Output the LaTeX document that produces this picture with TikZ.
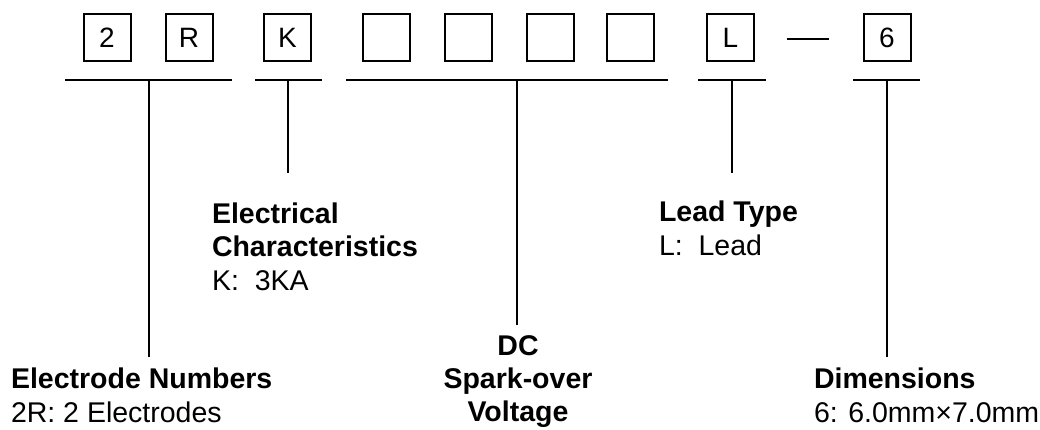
\documentclass[tikz,border=0pt]{standalone}
\usepackage{fontspec}
\setmainfont{Liberation Sans}
\begin{document}
\begin{tikzpicture}[x=1pt,y=-1pt,line width=2pt,
  cell/.style={draw, minimum size=47pt, inner sep=0pt, font=\fontsize{28}{33}\selectfont},
  lbl/.style={anchor=base west, align=left, inner sep=0pt, font=\fontsize{28.5}{33.5}\selectfont},
  lblc/.style={anchor=base, align=center, inner sep=0pt, font=\fontsize{28.5}{33}\selectfont}]
\useasboundingbox (0,0) rectangle (1040,430);

% code cells
\node[cell] (c1) at (107,37.5) {2};
\node[cell] (c2) at (189,37.5) {R};
\node[cell] (c3) at (287.5,37.5) {K};
\node[cell] (c4) at (386.5,37.5) {};
\node[cell] (c5) at (468.5,37.5) {};
\node[cell] (c6) at (550.5,37.5) {};
\node[cell] (c7) at (630.5,37.5) {};
\node[cell] (c8) at (730.5,37.5) {L};
\node[cell] (c9) at (887,37.5) {6};

% separator dash
\coordinate (d1) at (787,39);
\coordinate (d2) at (829,39);
\draw (d1) -- (d2);

% group bars
\coordinate (g1a) at (65,80);  \coordinate (g1b) at (232,80);
\coordinate (g2a) at (255,80); \coordinate (g2b) at (322,80);
\coordinate (g3a) at (346,80); \coordinate (g3b) at (668,80);
\coordinate (g4a) at (698,80); \coordinate (g4b) at (766,80);
\coordinate (g5a) at (853,80); \coordinate (g5b) at (920,80);
\draw (g1a) -- (g1b);
\draw (g2a) -- (g2b);
\draw (g3a) -- (g3b);
\draw (g4a) -- (g4b);
\draw (g5a) -- (g5b);

% leader lines
\coordinate (t1) at (149,80);  \coordinate (e1) at (149,357);
\coordinate (t2) at (288,80);  \coordinate (e2) at (288,173);
\coordinate (t3) at (517,80);  \coordinate (e3) at (517,325);
\coordinate (t4) at (732,80);  \coordinate (e4) at (732,173);
\coordinate (t5) at (887,80);  \coordinate (e5) at (887,357);
\draw (t1) -- (e1);
\draw (t2) -- (e2);
\draw (t3) -- (e3);
\draw (t4) -- (e4);
\draw (t5) -- (e5);

% descriptions (anchored at the baseline of the last line)
\node[lbl] (elec) at (211,290) {\textbf{Electrical}\\\textbf{Characteristics}\\K:\ \ 3KA};
\node[lbl] (lead) at (658,255) {\textbf{Lead Type}\\L:\ \ Lead};
\node[lblc] (dcv) at (518,421) {\textbf{DC}\\\textbf{Spark-over}\\\textbf{Voltage}};
\node[lbl] (num) at (10,422) {\textbf{Electrode Numbers}\\2R: 2 Electrodes};
\node[lbl] (dim) at (813,422) {\textbf{Dimensions}\\6: 6.0mm×7.0mm};
\end{tikzpicture}
\end{document}
